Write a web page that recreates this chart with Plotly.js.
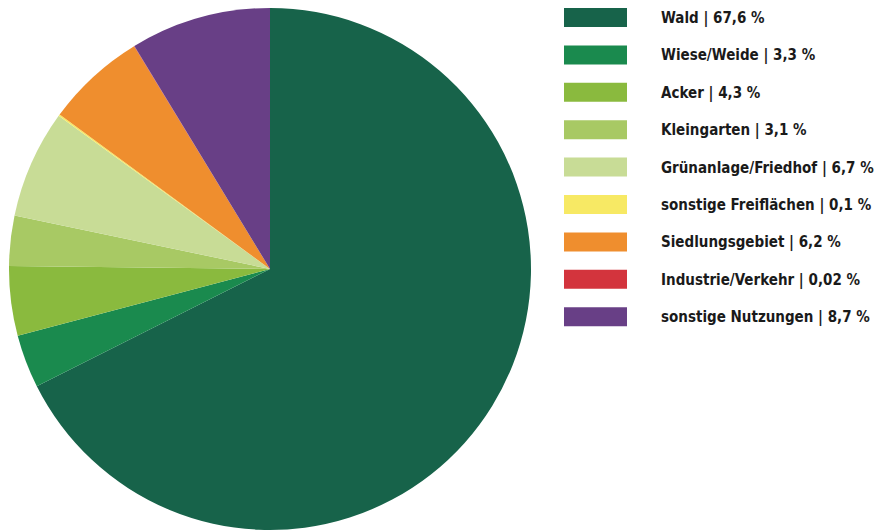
<!DOCTYPE html>
<html><head><meta charset="utf-8">
<script src="https://cdn.plot.ly/plotly-3.0.1.min.js"></script>
<style>html,body{margin:0;padding:0;background:#fff}#chart{width:883px;height:531px}</style>
</head><body><div id="chart"></div>
<script>
const categories = ["Wald","Wiese/Weide","Acker","Kleingarten","Grünanlage/Friedhof","sonstige Freiflächen","Siedlungsgebiet","Industrie/Verkehr","sonstige Nutzungen"];
const values = [67.6,3.3,4.3,3.1,6.7,0.1,6.2,0.02,8.7];
const valueLabels = ["67,6","3,3","4,3","3,1","6,7","0,1","6,2","0,02","8,7"];
const colors = ["#17634a","#1a8a4e","#8aba3e","#a8c964","#c8dc96","#f7e964","#ef8e2e","#d3343d","#683f86"];

const W = 883, H = 531;
const shapes = [], annotations = [];
const rowTop = 8, rowStep = 37.4, rectH = 19;
categories.forEach((c, i) => {
  const y0 = rowTop + i * rowStep;
  shapes.push({type:"rect", xref:"paper", yref:"paper",
    x0: 564/W, x1: 627/W, y0: 1 - (y0 + rectH)/H, y1: 1 - y0/H,
    fillcolor: colors[i], line:{width:0}});
  annotations.push({xref:"paper", yref:"paper", x: 659/W, y: 1 - (y0 + rectH/2 + 1)/H,
    xanchor:"left", yanchor:"middle", showarrow:false,
    text: "<b>" + c + " | " + valueLabels[i] + " %</b>",
    font:{family:"'DejaVu Sans Condensed','Liberation Sans Narrow',sans-serif", size:15, color:"#1a1a1a"}});
});

Plotly.newPlot("chart", [{
  type:"pie", labels: categories, values: values,
  marker:{colors: colors, line:{width:0}},
  sort:false, direction:"clockwise", rotation:0,
  textinfo:"none", hoverinfo:"label+value",
  domain:{x:[9/W, 531/W], y:[1/H, 523/H]}
}], {
  width: W, height: H, margin:{l:0,r:0,t:0,b:0},
  showlegend:false, paper_bgcolor:"#fff", plot_bgcolor:"#fff",
  shapes: shapes, annotations: annotations
}, {staticPlot:true});
</script></body></html>
